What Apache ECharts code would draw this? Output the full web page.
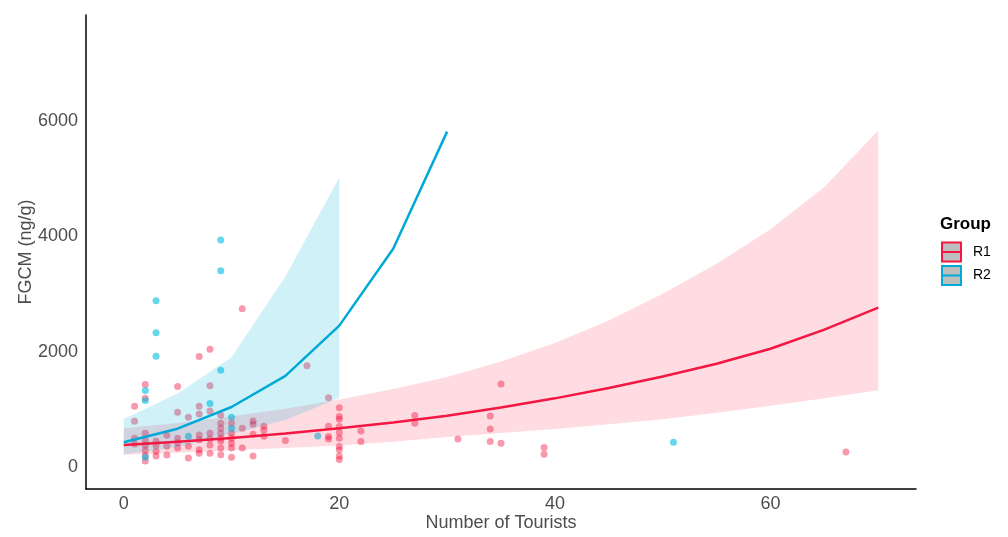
<!DOCTYPE html>
<html>
<head>
<meta charset="utf-8">
<script src="https://cdn.jsdelivr.net/npm/echarts@6/dist/echarts.min.js"></script>
<style>html,body{margin:0;padding:0;background:#fff;overflow:hidden}#c{width:1008px;height:537px}</style>
</head>
<body>
<div id="c"></div>
<script>
// ---- data ----
const xTicks = [0, 20, 40, 60];
const yTicks = [0, 2000, 4000, 6000];
const groups = ['R1', 'R2'];

// R1 observations
const r1Tourists = [1,1,1,1, 2,2,2,2,2,2,2,2, 3,3,3,3, 4,4,4, 5,5,5,5,5, 6,6,6,
  7,7,7,7,7,7,7, 8,8,8,8,8,8,8, 9,9,9,9,9,9,9,9, 10,10,10,10,10,10,
  11,11,11, 12,12,12,12, 13,13,13, 15, 17, 19,19,19,19,
  20,20,20,20,20,20,20,20,20,20, 22,22, 27,27, 31, 34,34,34, 35,35, 39,39, 67];
const r1Fgcm = [1052,793,500,400, 1431,1190,586,466,379,293,200,103, 448,379,276,190, 552,362,207, 1397,948,500,420,328, 862,362,155,
  1914,1052,919,557,471,300,241, 2040,1408,971,586,490,380,241, 897,759,672,586,500,448,328,212, 759,586,500,414,328,172,
  2741,672,328, 798,741,569,190, 707,643,534, 460, 1753, 1201,707,529,488,
  1029,874,830,701,600,500,356,300,190,130, 626,442, 891,759, 488, 885,661,442, 1437,414, 339,224, 259];

// R2 observations
const r2Tourists = [2,2,2, 3,3,3, 6, 8, 9,9,9, 10,10, 18, 51];
const r2Fgcm = [1328,1155,172, 2879,2328,1919, 534, 1103, 3931,3402,1678, 862,672, 540, 431];

// fitted curves and confidence bands
const r1FitX = [0, 5, 10, 15, 20, 25, 30, 35, 40, 45, 50, 55, 60, 65, 70];
const r1Fit = [380, 438, 505, 580, 672, 770, 890, 1030, 1190, 1370, 1570, 1790, 2050, 2380, 2760];
const r1Lower = [212, 250, 290, 330, 375, 440, 520, 590, 660, 740, 830, 940, 1060, 1190, 1330];
const r1Upper = [672, 765, 880, 1010, 1170, 1350, 1560, 1830, 2150, 2540, 3000, 3520, 4120, 4850, 5830];

const r2FitX = [0, 5, 10, 15, 20, 25, 30];
const r2Fit = [431, 665, 1040, 1580, 2450, 3780, 5810];
const r2BandX = [0, 5, 10, 15, 20];
const r2Lower = [223, 345, 572, 816, 1195];
const r2Upper = [833, 1276, 1900, 3300, 5017];

// ---- styles ----
const redLine = '#F31742', blueLine = '#00A9D6';
const redPt = 'rgba(243,23,66,0.55)', bluePt = 'rgba(0,190,225,0.75)';
const redBand = 'rgba(248,23,62,0.15)', blueBand = 'rgba(0,180,222,0.18)';
const font = '"Liberation Sans", Arial, sans-serif';

function zip(a, b) { return a.map((v, i) => [v, b[i]]); }

function bandSeries(name, xs, lo, hi, color) {
  return {
    type: 'custom', name: name, z: 3, silent: true, clip: true,
    data: [[xs[0], lo[0]]],
    renderItem: function (params, api) {
      const pts = [];
      for (let i = 0; i < xs.length; i++) pts.push(api.coord([xs[i], hi[i]]));
      for (let i = xs.length - 1; i >= 0; i--) pts.push(api.coord([xs[i], lo[i]]));
      return { type: 'polygon', shape: { points: pts }, style: { fill: color, stroke: null } };
    }
  };
}

const chart = echarts.init(document.getElementById('c'), null, { renderer: 'canvas' });
chart.setOption({
  animation: false,
  backgroundColor: '#fff',
  textStyle: { fontFamily: font },
  grid: { left: 86, right: 92, top: 15, bottom: 46, containLabel: false },
  xAxis: {
    type: 'value', min: -3.5, max: 73.5,
    name: 'Number of Tourists', nameLocation: 'middle', nameGap: 25, nameMoveOverlap: false,
    nameTextStyle: { color: '#4D4D4D', fontSize: 18, fontFamily: font },
    axisLine: { show: true, onZero: false, lineStyle: { color: '#000', width: 1.5 } },
    axisTick: { show: false },
    splitLine: { show: false },
    axisLabel: { customValues: xTicks, color: '#4D4D4D', fontSize: 18, margin: 6, fontFamily: font,
      formatter: function (v) { return String(v); } }
  },
  yAxis: {
    type: 'value', min: -380, max: 7830,
    name: 'FGCM (ng/g)', nameLocation: 'middle', nameGap: 51, nameRotate: 90, nameMoveOverlap: false,
    nameTextStyle: { color: '#4D4D4D', fontSize: 18, fontFamily: font },
    axisLine: { show: true, onZero: false, lineStyle: { color: '#000', width: 1.5 } },
    axisTick: { show: false },
    splitLine: { show: false },
    axisLabel: { customValues: yTicks, color: '#4D4D4D', fontSize: 18, margin: 8, fontFamily: font,
      formatter: function (v) { return String(v); } }
  },
  series: [
    { type: 'scatter', name: groups[0], z: 2, symbolSize: 7, data: zip(r1Tourists, r1Fgcm), itemStyle: { color: redPt } },
    { type: 'scatter', name: groups[1], z: 2, symbolSize: 7, data: zip(r2Tourists, r2Fgcm), itemStyle: { color: bluePt } },
    bandSeries(groups[0] + ' band', r1FitX, r1Lower, r1Upper, redBand),
    bandSeries(groups[1] + ' band', r2BandX, r2Lower, r2Upper, blueBand),
    { type: 'line', name: groups[0] + ' fit', z: 4, symbol: 'none', data: zip(r1FitX, r1Fit), lineStyle: { color: redLine, width: 2.5 } },
    { type: 'line', name: groups[1] + ' fit', z: 4, symbol: 'none', data: zip(r2FitX, r2Fit), lineStyle: { color: blueLine, width: 2.5 } }
  ],
  graphic: [
    { type: 'text', left: 940, top: 216, style: { text: 'Group', font: 'bold 17px ' + font, fill: '#000' } },
    { type: 'rect', shape: { x: 942, y: 242.5, width: 19, height: 19 }, style: { fill: '#BEBEBE', stroke: redLine, lineWidth: 2 } },
    { type: 'line', shape: { x1: 942, y1: 252, x2: 961, y2: 252 }, style: { stroke: redLine, lineWidth: 2 } },
    { type: 'rect', shape: { x: 942, y: 266, width: 19, height: 19 }, style: { fill: '#BEBEBE', stroke: blueLine, lineWidth: 2 } },
    { type: 'line', shape: { x1: 942, y1: 275.5, x2: 961, y2: 275.5 }, style: { stroke: blueLine, lineWidth: 2 } },
    { type: 'text', left: 973, top: 245, style: { text: 'R1', font: '14px ' + font, fill: '#000' } },
    { type: 'text', left: 973, top: 268, style: { text: 'R2', font: '14px ' + font, fill: '#000' } }
  ]
});
</script>
</body>
</html>
